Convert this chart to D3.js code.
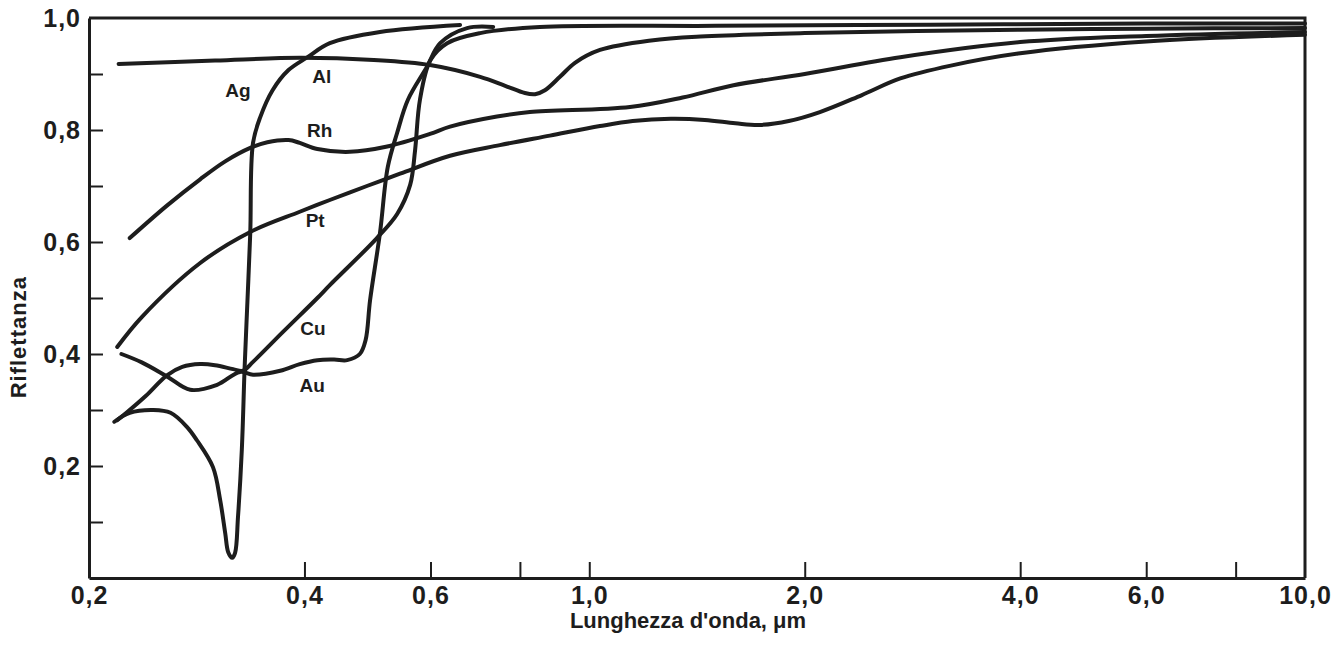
<!DOCTYPE html>
<html>
<head>
<meta charset="utf-8">
<script src="https://cdn.jsdelivr.net/npm/d3@7"></script>
<style>
  body { margin: 0; background: #fff; }
  svg { display: block; }
</style>
</head>
<body>
<svg id="chart"></svg>
<script>
// axis ticks
const xTicks = [0.2, 0.4, 0.6, 0.8, 1.0, 2.0, 4.0, 6.0, 8.0, 10.0];
const xTickLabels = [0.2, 0.4, 0.6, 1.0, 2.0, 4.0, 6.0, 10.0];
const yTicks = [0.1, 0.2, 0.3, 0.4, 0.5, 0.6, 0.7, 0.8, 0.9, 1.0];
const yTickLabels = [0.2, 0.4, 0.6, 0.8, 1.0];

// [wavelength µm, reflectance]
const ag = [[0.217,0.279],[0.228,0.295],[0.246,0.30],[0.260,0.295],[0.274,0.27],[0.283,0.246],
  [0.298,0.198],[0.305,0.139],[0.310,0.08],[0.313,0.046],[0.317,0.036],[0.320,0.045],
  [0.323,0.109],[0.327,0.229],[0.330,0.377],[0.333,0.496],[0.336,0.616],[0.339,0.777],
  [0.347,0.823],[0.361,0.871],[0.380,0.907],[0.404,0.93],[0.434,0.955],[0.51,0.975],[0.66,0.9875]];
const al = [[0.22,0.918],[0.30,0.924],[0.394,0.929],[0.50,0.925],[0.599,0.916],[0.704,0.895],
  [0.763,0.879],[0.813,0.866],[0.84,0.864],[0.867,0.871],[0.91,0.895],[0.955,0.92],[1.035,0.943],
  [1.22,0.96],[1.43,0.967],[2.0,0.973],[4.0,0.979],[6.0,0.981],[10.0,0.982]];
const rh = [[0.228,0.607],[0.257,0.665],[0.286,0.712],[0.31,0.744],[0.336,0.768],[0.355,0.778],
  [0.38,0.782],[0.394,0.777],[0.417,0.766],[0.463,0.761],[0.52,0.77],[0.599,0.793],[0.639,0.806],
  [0.743,0.824],[0.826,0.832],[1.14,0.841],[1.35,0.858],[1.59,0.88],[2.0,0.90],[2.72,0.93],
  [4.0,0.957],[6.0,0.968],[10.0,0.975]];
const pt = [[0.219,0.4125],[0.237,0.466],[0.286,0.5625],[0.336,0.618],[0.394,0.654],[0.434,0.675],
  [0.489,0.70],[0.544,0.722],[0.639,0.754],[0.75,0.773],[0.881,0.79],[1.035,0.807],[1.15,0.816],
  [1.3,0.82],[1.45,0.818],[1.6,0.812],[1.73,0.809],[1.9,0.816],[2.1,0.832],[2.4,0.862],
  [2.72,0.892],[3.2,0.915],[4.0,0.937],[6.0,0.958],[10.0,0.97]];
const cu = [[0.219,0.282],[0.226,0.296],[0.24,0.325],[0.257,0.362],[0.27,0.377],[0.286,0.382],
  [0.30,0.38],[0.318,0.373],[0.328,0.37],[0.339,0.386],[0.373,0.439],[0.417,0.50],[0.434,0.523],
  [0.505,0.607],[0.539,0.65],[0.562,0.702],[0.571,0.764],[0.58,0.854],[0.60,0.925],[0.633,0.955],
  [0.704,0.973],[0.853,0.984],[1.5,0.986],[3.0,0.988],[6.0,0.99],[10.0,0.99]];
const au = [[0.222,0.40],[0.237,0.385],[0.257,0.36],[0.277,0.336],[0.302,0.345],[0.325,0.368],
  [0.339,0.363],[0.37,0.37],[0.394,0.382],[0.417,0.389],[0.44,0.39],[0.459,0.389],[0.478,0.40],
  [0.487,0.425],[0.494,0.496],[0.51,0.616],[0.523,0.734],[0.539,0.795],[0.558,0.854],
  [0.593,0.9125],[0.619,0.955],[0.675,0.982],[0.734,0.984]];

// curve labels, placed in data units
const labelNames = ["Ag", "Al", "Rh", "Pt", "Cu", "Au"];
const labelWl = [0.323, 0.423, 0.420, 0.414, 0.411, 0.410];
const labelR = [0.859, 0.884, 0.7875, 0.627, 0.434, 0.332];

const width = 1343;
const height = 646;
const margin = { top: 18, right: 38, bottom: 68, left: 89 };
const ink = "#1d1d1d";
const font = "'Liberation Sans', Arial, Helvetica, sans-serif";

const svg = d3.select("#chart").attr("width", width).attr("height", height);

const x = d3.scaleLog([0.2, 10], [margin.left, width - margin.right]);
const y = d3.scaleLinear([0, 1], [height - margin.bottom, margin.top]);

const it = d3.formatLocale({ decimal: ",", thousands: ".", grouping: [3], currency: ["", "€"] });
const fmt = it.format(".1f");

// x axis, ticks pointing inward
const xAxis = d3.axisBottom(x)
  .tickValues(xTicks)
  .tickSizeInner(-16)
  .tickSizeOuter(0)
  .tickPadding(8)
  .tickFormat(d => xTickLabels.includes(d) ? fmt(d) : "");

const gx = svg.append("g")
  .attr("transform", `translate(0,${y(0)})`)
  .call(xAxis);
gx.select(".domain").attr("stroke", ink).attr("stroke-width", 3);
gx.selectAll(".tick line").attr("stroke", ink).attr("stroke-width", 2);
gx.selectAll(".tick").filter(d => d === 0.2 || d === 10).select("line").remove();
gx.selectAll(".tick text")
  .attr("font-family", font)
  .attr("font-size", 25)
  .attr("font-weight", "bold")
  .attr("letter-spacing", 1)
  .attr("fill", ink);

// y axis
const yAxis = d3.axisLeft(y)
  .tickValues(yTicks)
  .tickSizeInner(-14)
  .tickSizeOuter(0)
  .tickPadding(8)
  .tickFormat(d => yTickLabels.some(v => Math.abs(v - d) < 1e-9) ? fmt(d) : "");

const gy = svg.append("g")
  .attr("transform", `translate(${x(0.2)},0)`)
  .call(yAxis);
gy.select(".domain").attr("stroke", ink).attr("stroke-width", 3);
gy.selectAll(".tick line").attr("stroke", ink).attr("stroke-width", 2);
gy.selectAll(".tick").filter(d => d === 1.0).select("line").remove();
gy.selectAll(".tick text")
  .attr("font-family", font)
  .attr("font-size", 25)
  .attr("font-weight", "bold")
  .attr("letter-spacing", 1)
  .attr("fill", ink);

// top and right frame
svg.append("path")
  .attr("d", `M${x(0.2)},${y(1)}H${x(10)}V${y(0)}`)
  .attr("fill", "none")
  .attr("stroke", ink)
  .attr("stroke-width", 3);

const line = d3.line()
  .x(d => x(d[0]))
  .y(d => y(d[1]))
  .curve(d3.curveCatmullRom.alpha(0.5));

const curves = [ag, al, rh, pt, cu, au];
svg.append("g")
  .selectAll("path")
  .data(curves)
  .join("path")
  .attr("d", line)
  .attr("fill", "none")
  .attr("stroke", ink)
  .attr("stroke-width", 4)
  .attr("stroke-linecap", "round")
  .attr("stroke-linejoin", "round");

svg.append("g")
  .selectAll("text")
  .data(labelNames)
  .join("text")
  .attr("x", (d, i) => x(labelWl[i]))
  .attr("y", (d, i) => y(labelR[i]))
  .attr("text-anchor", "middle")
  .attr("font-family", font)
  .attr("font-size", 19)
  .attr("font-weight", "bold")
  .attr("fill", ink)
  .text(d => d);

// axis titles
svg.append("text")
  .attr("x", 688)
  .attr("y", 628)
  .attr("text-anchor", "middle")
  .attr("font-family", font)
  .attr("font-size", 22)
  .attr("font-weight", "bold")
  .attr("fill", ink)
  .text("Lunghezza d'onda, μm");

svg.append("text")
  .attr("transform", `translate(26,${y(0.43)}) rotate(-90)`)
  .attr("text-anchor", "middle")
  .attr("font-family", font)
  .attr("font-size", 22)
  .attr("font-weight", "bold")
  .attr("letter-spacing", 1)
  .attr("fill", ink)
  .text("Riflettanza");
</script>
</body>
</html>
